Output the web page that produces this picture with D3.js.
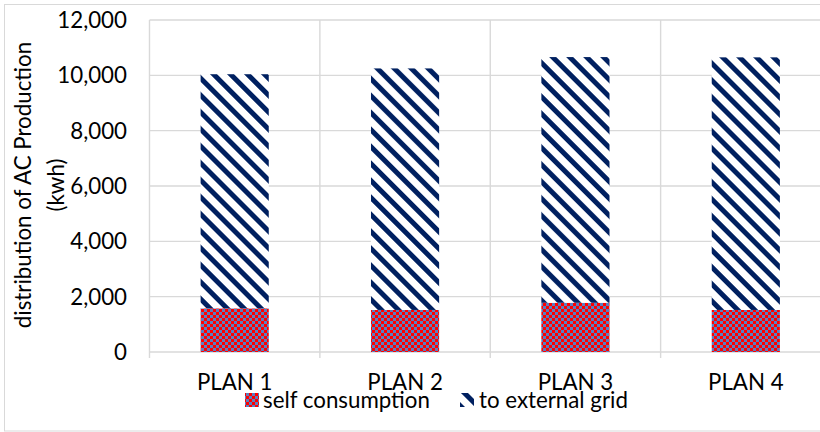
<!DOCTYPE html>
<html><head><meta charset="utf-8">
<script src="https://cdn.jsdelivr.net/npm/d3@7"></script>
<style>
html,body{margin:0;padding:0;background:#fff;}
svg{display:block;font-family:Lato,"Noto Sans",sans-serif;}
</style></head>
<body>
<svg id="c" width="820" height="432"></svg>
<script>
const plans = ["PLAN 1", "PLAN 2", "PLAN 3", "PLAN 4"];
const selfConsumption = [1580, 1520, 1780, 1520];
const toExternalGrid = [8460, 8730, 8880, 9130];
const yTicks = [0, 2000, 4000, 6000, 8000, 10000, 12000];
const seriesNames = ["self consumption", "to external grid"];

const svg = d3.select("#c");
const fs = 22.3;
const defs = svg.append("defs");
// checkerboard
const chk = defs.append("pattern").attr("id", "chk").attr("patternUnits", "userSpaceOnUse")
  .attr("width", 6).attr("height", 6);
chk.append("rect").attr("width", 6).attr("height", 6).attr("fill", "#5b7fc0");
chk.append("rect").attr("width", 3).attr("height", 3).attr("fill", "#ff0000");
chk.append("rect").attr("x", 3).attr("y", 3).attr("width", 3).attr("height", 3).attr("fill", "#ff0000");
// diagonal stripes
const str = defs.append("pattern").attr("id", "str").attr("patternUnits", "userSpaceOnUse")
  .attr("width", 12).attr("height", 12).attr("patternTransform", "rotate(-45)");
str.append("rect").attr("width", 12).attr("height", 12).attr("fill", "#fff");
str.append("rect").attr("width", 5).attr("height", 12).attr("fill", "#002060");

// outer border
svg.append("rect").attr("x", 4.5).attr("y", 4.5).attr("width", 830).attr("height", 426.5)
  .attr("fill", "none").attr("stroke", "#d9d9d9").attr("stroke-width", 1);

const x = d3.scaleBand().domain(plans).range([149.5, 831]).paddingInner(0.6).paddingOuter(0.3);
const y = d3.scaleLinear().domain([0, 12000]).range([352, 20]);

const grid = svg.append("g");
grid.selectAll("line.h").data(yTicks).join("line")
  .attr("x1", 149.5).attr("x2", 831).attr("y1", d => y(d)).attr("y2", d => y(d))
  .attr("stroke", "#d9d9d9").attr("stroke-width", 1.4);
const vb = [149.5].concat(plans.slice(1).map(p => x(p) - x.step() * x.paddingInner() / 2));
grid.selectAll("line.v").data(vb).join("line")
  .attr("x1", d => d).attr("x2", d => d).attr("y1", y(12000)).attr("y2", y(0) + 6)
  .attr("stroke", "#d9d9d9").attr("stroke-width", 1.4);

// bars
const stack = plans.map((p, i) => ({p, a: selfConsumption[i], b: toExternalGrid[i]}));
svg.append("g").selectAll("rect").data(stack).join("rect")
  .attr("x", d => x(d.p)).attr("width", x.bandwidth())
  .attr("y", d => y(d.a)).attr("height", d => y(0) - y(d.a))
  .attr("fill", "url(#chk)");
svg.append("g").selectAll("rect").data(stack).join("rect")
  .attr("x", d => x(d.p)).attr("width", x.bandwidth())
  .attr("y", d => y(d.a + d.b)).attr("height", d => y(d.a) - y(d.a + d.b))
  .attr("fill", "url(#str)");

// y labels
const fmt = d3.format(",");
svg.append("g").selectAll("text").data(yTicks).join("text")
  .attr("x", 127).attr("y", d => y(d)).attr("dy", "0.36em")
  .attr("text-anchor", "end").attr("font-size", fs).attr("fill", "#000")
  .text(d => fmt(d));

// x labels
svg.append("g").selectAll("text").data(plans).join("text")
  .attr("x", d => x(d) + x.bandwidth() / 2).attr("y", 390)
  .attr("text-anchor", "middle").attr("font-size", fs).attr("fill", "#000")
  .text(d => d);

// y title
const yt = svg.append("text").attr("transform", "translate(0,185) rotate(-90)")
  .attr("text-anchor", "middle").attr("font-size", fs).attr("fill", "#000");
yt.append("tspan").attr("x", 0).attr("y", 31).text("distribution of AC Production");
yt.append("tspan").attr("x", 0).attr("y", 64).text("(kwh)");

// legend
const lg = svg.append("g");
lg.append("rect").attr("x", 245).attr("y", 393).attr("width", 14).attr("height", 14).attr("fill", "url(#chk)");
lg.append("text").attr("x", 263).attr("y", 408).attr("font-size", fs).attr("fill", "#000").text(seriesNames[0]);
lg.append("rect").attr("x", 460).attr("y", 393).attr("width", 14).attr("height", 14).attr("fill", "url(#str)");
lg.append("text").attr("x", 479).attr("y", 408).attr("font-size", fs).attr("fill", "#000").text(seriesNames[1]);
</script>
</body></html>
